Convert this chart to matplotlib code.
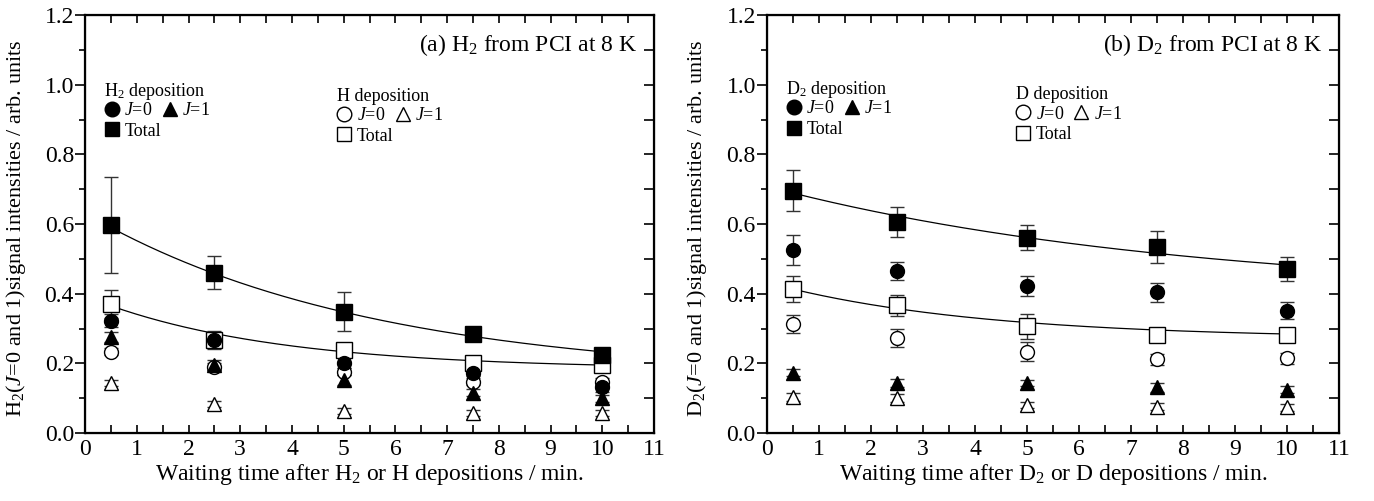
import numpy as np
import matplotlib
matplotlib.use("Agg")
import matplotlib.pyplot as plt
from matplotlib.lines import Line2D
from matplotlib.legend import Legend

plt.rcParams['font.family'] = ['Liberation Serif', 'DejaVu Serif']
plt.rcParams['mathtext.fontset'] = 'custom'
plt.rcParams['mathtext.rm'] = 'Liberation Serif'
plt.rcParams['mathtext.it'] = 'Liberation Serif:italic'

# -----------------------------
#  Data
# -----------------------------
t = [0.5, 2.5, 5.0, 7.5, 10.0]

# (a) H2 from PCI at 8 K
h2_j0 = [0.323, 0.268, 0.202, 0.173, 0.132]
h2_j0_err = [0.02, 0.026, 0.015, 0.01, 0.015]
h2_j1 = [0.276, 0.195, 0.152, 0.116, 0.100]
h2_j1_err = [0.015, 0.015, 0.015, 0.01, 0.01]
h2_tot = [0.597, 0.460, 0.348, 0.284, 0.225]
h2_tot_err = [0.137, 0.047, 0.056, 0.015, 0.01]
h_j0 = [0.233, 0.190, 0.176, 0.147, 0.147]
h_j0_err = [0.01, 0.01, 0.01, 0.01, 0.01]
h_j1 = [0.143, 0.083, 0.064, 0.057, 0.057]
h_j1_err = [0.008, 0.008, 0.008, 0.008, 0.008]
h_tot = [0.371, 0.267, 0.238, 0.200, 0.195]
h_tot_err = [0.04, 0.02, 0.015, 0.01, 0.01]

# (b) D2 from PCI at 8 K
d2_j0 = [0.526, 0.466, 0.422, 0.404, 0.351]
d2_j0_err = [0.043, 0.026, 0.028, 0.027, 0.025]
d2_j1 = [0.173, 0.143, 0.143, 0.131, 0.124]
d2_j1_err = [0.01, 0.012, 0.008, 0.012, 0.01]
d2_tot = [0.695, 0.607, 0.561, 0.534, 0.470]
d2_tot_err = [0.059, 0.043, 0.036, 0.045, 0.034]
d_j0 = [0.313, 0.272, 0.234, 0.212, 0.215]
d_j0_err = [0.025, 0.026, 0.027, 0.016, 0.016]
d_j1 = [0.104, 0.100, 0.080, 0.076, 0.074]
d_j1_err = [0.012, 0.012, 0.008, 0.01, 0.01]
d_tot = [0.414, 0.367, 0.307, 0.282, 0.282]
d_tot_err = [0.038, 0.03, 0.036, 0.01, 0.01]

# exponential decay fits y0 + A*exp(-t/tau), parameters
fit_h2 = (0.156, 0.475, 5.5)
fit_h = (0.183, 0.21, 3.5)
fit_d2 = (0.392, 0.316, 8.0)
fit_d = (0.271, 0.161, 4.0)


def handle(marker, filled, ms=10.5):
    return Line2D([], [], ls='none', marker=marker, ms=ms, color='black',
                  mfc='black' if filled else 'white', mec='black', mew=1.0)


def key(ax, title, filled, x0, y0):
    # small hand-made key: title, "J=0  J=1" row, "Total" row
    kw = dict(frameon=False, fontsize=13, handlelength=0.8, handletextpad=0.3,
              columnspacing=0.55, borderpad=0, borderaxespad=0, loc='center left')
    ax.text(x0, y0, title, transform=ax.transAxes, fontsize=13,
            ha='left', va='center')
    leg = Legend(ax, [handle('o', filled), handle('^', filled)], ['$J$=0', '$J$=1'],
                 ncol=2, bbox_to_anchor=(x0, y0 - 0.046), **kw)
    ax.add_artist(leg)
    leg2 = Legend(ax, [handle('s', filled, 10)], ['Total'],
                  bbox_to_anchor=(x0, y0 - 0.096), **kw)
    ax.add_artist(leg2)


def draw_panel(ax, series, fits, title, xlabel, ylabel):
    tt = np.linspace(t[0], t[-1], 200)
    for y0, a, tau in fits:
        ax.plot(tt, y0 + a * np.exp(-tt / tau), color='black', lw=0.9, zorder=2)

    for y, err, marker, filled, ms in series:
        ax.errorbar(t, y, yerr=err, fmt=marker, ms=ms, color='black',
                    mfc='black' if filled else 'white', mec='black', mew=1.0,
                    ecolor='#333333', elinewidth=1.0, capsize=5, capthick=1.0,
                    zorder=3)

    ax.set_xlim(0, 11)
    ax.set_ylim(0, 1.2)
    ax.set_xticks(np.arange(0, 12, 1))
    ax.set_xticks(np.arange(0.5, 11, 1), minor=True)
    ax.set_yticks(np.arange(0, 1.21, 0.2))
    ax.set_yticks(np.arange(0.1, 1.2, 0.2), minor=True)
    ax.set_yticklabels(['%.1f' % v for v in np.arange(0, 1.21, 0.2)])
    ax.tick_params(axis='x', which='both', direction='in', top=True,
                   length=6, width=1.2, labelsize=17, pad=4)
    ax.tick_params(axis='y', which='major', direction='out', length=7,
                   width=1.2, labelsize=17, pad=1)
    ax.tick_params(axis='y', which='minor', direction='out', length=4, width=1.2)
    for s in ax.spines.values():
        s.set_linewidth(1.6)

    # inward ticks on the right spine every 0.1
    ax2 = ax.twinx()
    ax2.set_ylim(0, 1.2)
    ax2.set_yticks(np.arange(0, 1.21, 0.1))
    ax2.tick_params(axis='y', direction='in', length=7, width=1.2, labelright=False)

    ax.set_xlabel(xlabel, fontsize=17, labelpad=2)
    ax.set_ylabel(ylabel, fontsize=16)
    ax.yaxis.set_label_coords(-0.101, 0.49)

    ax.text(0.971, 0.915, title, transform=ax.transAxes, ha='right', fontsize=17)


fig = plt.figure(figsize=(13.74, 5.01), dpi=100)
axa = fig.add_axes([0.0619, 0.1357, 0.4141, 0.8343])
axb = fig.add_axes([0.5582, 0.1357, 0.4163, 0.8343])

series_a = [
    (h_tot, h_tot_err, 's', False, 11),
    (h_j0, h_j0_err, 'o', False, 10),
    (h_j1, h_j1_err, '^', False, 10.5),
    (h2_j1, h2_j1_err, '^', True, 10.5),
    (h2_j0, h2_j0_err, 'o', True, 10),
    (h2_tot, h2_tot_err, 's', True, 11),
]
series_b = [
    (d_tot, d_tot_err, 's', False, 11),
    (d_j0, d_j0_err, 'o', False, 10),
    (d_j1, d_j1_err, '^', False, 10.5),
    (d2_j1, d2_j1_err, '^', True, 10.5),
    (d2_j0, d2_j0_err, 'o', True, 10),
    (d2_tot, d2_tot_err, 's', True, 11),
]

draw_panel(axa, series_a, [fit_h2, fit_h], '(a) H$_2$ from PCI at 8 K',
           'Waiting time after H$_2$ or H depositions / min.',
           'H$_2$($J$=0 and 1)signal intensities / arb. units')
key(axa, 'H$_2$ deposition', True, 0.034, 0.818)
key(axa, 'H deposition', False, 0.443, 0.806)

draw_panel(axb, series_b, [fit_d2, fit_d], '(b) D$_2$ from PCI at 8 K',
           'Waiting time after D$_2$ or D depositions / min.',
           'D$_2$($J$=0 and 1)signal intensities / arb. units')
key(axb, 'D$_2$ deposition', True, 0.034, 0.822)
key(axb, 'D deposition', False, 0.435, 0.809)

fig.savefig('out.png', dpi=100)
